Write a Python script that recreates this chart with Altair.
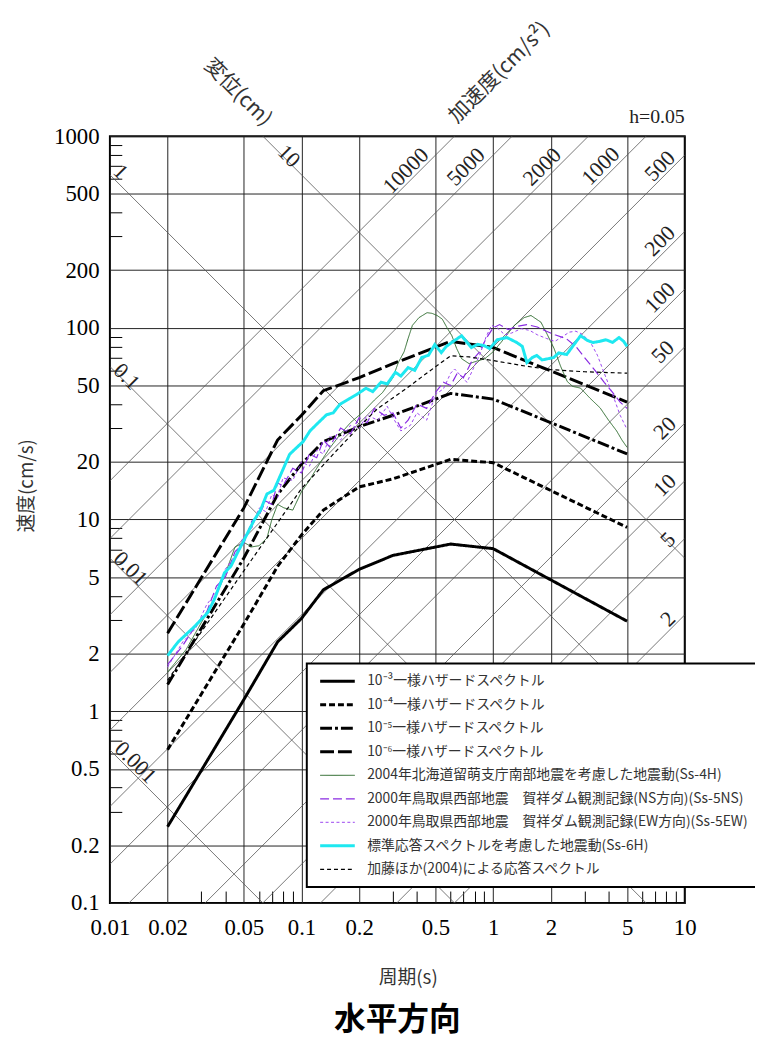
import altair as alt
import pandas as pd

JP = "Noto Sans CJK JP"
SERIF = "Liberation Serif"

# ---------------- axis values ----------------
X_TICKS = [0.01, 0.02, 0.05, 0.1, 0.2, 0.5, 1, 2, 5, 10]
Y_TICKS = [0.1, 0.2, 0.5, 1, 2, 5, 10, 20, 50, 100, 200, 500, 1000]
X_MINOR = [0.03, 0.04, 0.06, 0.07, 0.08, 0.09, 0.3, 0.4, 0.6, 0.7, 0.8, 0.9, 3, 4, 6, 7, 8, 9]
Y_MINOR = [0.3, 0.4, 0.6, 0.7, 0.8, 0.9, 3, 4, 6, 7, 8, 9, 30, 40, 60, 70, 80, 90,
           300, 400, 600, 700, 800, 900]

# tripartite reference lines (acceleration cm/s^2, displacement cm)
ACC_LINES = [10000, 5000, 2000, 1000, 500, 200, 100, 50, 20, 10, 5, 2, 1]
DISP_LINES = [10, 1, 0.1, 0.01, 0.001]

# labels of the reference lines (anchor in period / velocity)
ACC_LABELS = ["10000", "5000", "2000", "1000", "500", "200", "100", "50", "20", "10", "5", "2"]
ACC_LABEL_T = [0.350, 0.722, 1.80, 3.64, 7.42, 7.42, 7.42, 7.69, 7.87, 7.87, 8.16, 8.16]
ACC_LABEL_V = [660, 692, 692, 699, 699, 284, 144, 75, 30.0, 15.1, 7.84, 3.03]
DISP_LABELS = ["10", "1", "0.1", "0.01", "0.001"]
DISP_LABEL_T = [0.0860, 0.0114, 0.01224, 0.01283, 0.01362]
DISP_LABEL_V = [788, 652, 55.7, 5.55, 0.541]

TOP_TEXT = ["変位(cm)", "加速度(cm/s²)"]
TOP_T = [0.0464, 1.082]
TOP_V = [1687, 2139]
TOP_ANGLE = [45, 315]
H_TEXT = ["h=0.05"]
H_T = [10]
H_V = [1254]

# ---------------- spectra ----------------
T_UHS = [0.02, 0.05, 0.075, 0.1, 0.13, 0.2, 0.3, 0.6, 1.0, 5.0]
V_UHS_E3 = [0.25, 1.15, 2.3, 3.05, 4.3, 5.5, 6.5, 7.45, 7.05, 2.95]
V_UHS_E4 = [0.63, 2.85, 5.7, 8.3, 11.2, 14.8, 16.3, 20.6, 19.8, 9.1]
V_UHS_E5 = [1.38, 6.3, 13.5, 19.5, 25.5, 30.5, 35.0, 45.5, 42.5, 22.0]
V_UHS_E6 = [2.55, 11.5, 26.0, 35.0, 47.0, 55.0, 65.0, 85.0, 79.0, 41.0]

T_4H = [0.02, 0.025, 0.03, 0.035, 0.04, 0.045, 0.05, 0.055, 0.06, 0.066, 0.07, 0.075,
        0.081, 0.09, 0.1, 0.11, 0.12, 0.13, 0.14, 0.16, 0.18, 0.21, 0.24, 0.265, 0.3,
        0.32, 0.343, 0.36, 0.379, 0.41, 0.452, 0.48, 0.51, 0.543, 0.575, 0.609, 0.645,
        0.685, 0.75, 0.804, 0.905, 1.0, 1.104, 1.2, 1.29, 1.45, 1.576, 1.776, 1.92, 2.08,
        2.25, 2.436, 2.6, 2.856, 3.2, 3.62, 4.0, 4.41, 4.7, 5.0]
V_4H = [1.6, 2.1, 2.9, 3.8, 5.2, 7.2, 7.6, 7.2, 7.3, 8.0, 10.0, 12.0,
        11.5, 11.2, 14.0, 16.0, 18.5, 21.0, 23.5, 28.0, 32.0, 36.5, 42.0, 46.0, 55.0,
        66.0, 75.0, 88.0, 103.0, 113.0, 120.0, 119.0, 116.0, 111.0, 100.0, 91.0, 78.0,
        69.0, 65.0, 66.6, 69.0, 75.0, 84.4, 94.0, 103.0, 113.0, 116.0, 107.0, 92.0, 78.0,
        63.0, 52.5, 49.5, 48.5, 43.0, 38.2, 33.0, 29.0, 26.0, 23.8]

T_5NS = [0.02, 0.024, 0.028, 0.032, 0.036, 0.04, 0.045, 0.05, 0.055, 0.06, 0.065, 0.07,
         0.075, 0.08, 0.09, 0.1, 0.11, 0.12, 0.13, 0.14, 0.16, 0.18, 0.2, 0.22, 0.24,
         0.27, 0.3, 0.33, 0.36, 0.4, 0.45, 0.5, 0.55, 0.6, 0.65, 0.7, 0.78, 0.85, 0.92,
         1.0, 1.08, 1.2, 1.35, 1.5, 1.7, 1.9, 2.1, 2.4, 2.7, 3.0, 3.4, 3.8, 4.2, 4.6, 5.0]
V_5NS = [1.75, 2.2, 2.8, 3.3, 4.5, 5.0, 6.8, 7.5, 9.8, 10.5, 12.5, 12.0,
         15.5, 15.0, 18.5, 17.5, 22.0, 21.0, 26.0, 24.0, 30.0, 28.0, 34.0, 32.0, 38.0,
         35.0, 36.0, 30.0, 33.0, 40.0, 38.0, 46.0, 52.0, 50.0, 58.0, 55.0, 68.0, 75.0, 88.0,
         100.0, 104.0, 98.0, 102.0, 104.0, 101.0, 96.0, 92.0, 88.0, 80.0, 70.0, 60.0, 52.0,
         46.0, 41.0, 38.0]

T_5EW = [0.02, 0.024, 0.028, 0.032, 0.036, 0.04, 0.045, 0.05, 0.055, 0.06, 0.065, 0.07,
         0.075, 0.08, 0.09, 0.1, 0.11, 0.12, 0.13, 0.14, 0.16, 0.18, 0.2, 0.22, 0.25,
         0.28, 0.3, 0.33, 0.37, 0.4, 0.45, 0.5, 0.55, 0.6, 0.63, 0.68, 0.73, 0.78, 0.85,
         0.92, 0.98, 1.05, 1.15, 1.25, 1.4, 1.55, 1.7, 1.9, 2.1, 2.3, 2.5, 2.7, 2.9, 3.2,
         3.5, 3.8, 4.2, 4.6, 5.0]
V_5EW = [1.7, 2.3, 2.7, 3.6, 4.2, 5.5, 6.5, 8.2, 9.0, 11.5, 11.0, 13.5,
         13.0, 16.5, 16.0, 20.0, 19.0, 23.0, 22.0, 27.0, 26.0, 31.0, 30.0, 35.0, 33.0,
         39.0, 34.0, 29.0, 31.0, 36.0, 33.0, 45.0, 48.0, 58.0, 61.0, 56.0, 52.0, 60.0, 72.0,
         90.0, 103.0, 100.0, 92.0, 94.0, 99.0, 97.0, 92.0, 88.0, 85.0, 90.0, 95.0, 96.0, 93.0,
         85.0, 72.0, 58.0, 45.0, 35.0, 29.5]

T_6H = [0.02, 0.0227, 0.0277, 0.0324, 0.0351, 0.0396, 0.0428, 0.0463, 0.0502, 0.0565,
        0.0611, 0.066, 0.0717, 0.0805, 0.0867, 0.0946, 0.102, 0.1107, 0.12, 0.135, 0.1463,
        0.1582, 0.177, 0.193, 0.217, 0.2353, 0.26, 0.28, 0.309, 0.33, 0.36, 0.39, 0.424,
        0.46, 0.496, 0.536, 0.57, 0.607, 0.684, 0.73, 0.77, 0.83, 0.898, 0.96, 1.05, 1.18,
        1.33, 1.42, 1.5, 1.6, 1.69, 1.8, 2.07, 2.2, 2.42, 2.6, 2.86, 3.1, 3.32, 3.6, 3.87,
        4.2, 4.54, 4.8, 5.0]
V_6H = [1.95, 2.3, 2.77, 3.27, 3.84, 5.27, 5.71, 6.7, 7.84, 9.9,
        11.2, 13.6, 14.2, 18.5, 21.9, 23.8, 25.5, 29.0, 31.4, 35.2, 36.0,
        39.8, 42.6, 44.8, 48.4, 46.5, 52.0, 51.0, 58.6, 56.0, 62.0, 60.0, 70.0,
        72.0, 81.7, 74.3, 80.0, 83.8, 91.0, 84.0, 78.9, 82.0, 80.7, 78.0, 86.7, 89.0,
        83.8, 80.0, 66.0, 70.0, 71.8, 68.0, 70.0, 74.0, 72.6, 80.0, 91.0, 86.0, 83.8, 85.0, 86.7,
        84.0, 89.0, 85.0, 80.0]

T_KATO = [0.02, 0.05, 0.1, 0.15, 0.2, 0.25, 0.35, 0.45, 0.6, 0.75, 1.0, 1.5, 2.0, 3.0, 5.0]
V_KATO = [1.45, 5.4, 14.5, 22.5, 30.5, 38.0, 48.0, 58.0, 71.5, 70.5, 67.5, 63.0, 60.5, 59.0, 58.0]

SERIES = [
    "10⁻³一様ハザードスペクトル",
    "10⁻⁴一様ハザードスペクトル",
    "10⁻⁵一様ハザードスペクトル",
    "10⁻⁶一様ハザードスペクトル",
    "2004年北海道留萌支庁南部地震を考慮した地震動(Ss-4H)",
    "2000年鳥取県西部地震　賀祥ダム観測記録(NS方向)(Ss-5NS)",
    "2000年鳥取県西部地震　賀祥ダム観測記録(EW方向)(Ss-5EW)",
    "標準応答スペクトルを考慮した地震動(Ss-6H)",
    "加藤ほか(2004)による応答スペクトル",
]
COLORS = ["#000000", "#000000", "#000000", "#000000", "#2F6B2F",
          "#8A2BE2", "#9B45F0", "#1EE8F0", "#000000"]
DASHES = [[1, 0], [6, 3], [12, 3, 3, 3], [14, 4], [1, 0], [9, 4], [3, 2.5], [1, 0], [4, 3]]
WIDTHS = [3, 3, 3, 3, 1, 1.2, 1, 3, 1.2]

CURVE_T = [T_UHS, T_UHS, T_UHS, T_UHS, T_4H, T_5NS, T_5EW, T_6H, T_KATO]
CURVE_V = [V_UHS_E3, V_UHS_E4, V_UHS_E5, V_UHS_E6, V_4H, V_5NS, V_5EW, V_6H, V_KATO]

# ---------------- tables ----------------
curve_rows = []
for k, name in enumerate(SERIES):
    for t, v in zip(CURVE_T[k], CURVE_V[k]):
        curve_rows.append({"series": name, "T": t, "V": v})
curves_df = pd.DataFrame(curve_rows)

T_ENDS = [X_TICKS[0], X_TICKS[-1]]
diag_rows = []
for a in ACC_LINES:
    for t in T_ENDS:
        diag_rows.append({"key": f"A{a}", "kind": "A", "val": a, "T": t})
for d in DISP_LINES:
    for t in T_ENDS:
        diag_rows.append({"key": f"D{d}", "kind": "D", "val": d, "T": t})
diag_df = pd.DataFrame(diag_rows)

num_df = pd.DataFrame(
    [{"txt": s, "T": t, "V": v, "ang": 315} for s, t, v in zip(ACC_LABELS, ACC_LABEL_T, ACC_LABEL_V)]
    + [{"txt": s, "T": t, "V": v, "ang": 45} for s, t, v in zip(DISP_LABELS, DISP_LABEL_T, DISP_LABEL_V)]
)
top_df = pd.DataFrame([{"txt": s, "T": t, "V": v, "ang": a}
                       for s, t, v, a in zip(TOP_TEXT, TOP_T, TOP_V, TOP_ANGLE)])
h_df = pd.DataFrame([{"txt": s, "T": t, "V": v} for s, t, v in zip(H_TEXT, H_T, H_V)])

# ---------------- scales / axes ----------------
xs = alt.Scale(type="log", domain=[0.01, 10], nice=False)
ys = alt.Scale(type="log", domain=[0.1, 1000], nice=False)

x_main = alt.Axis(values=X_TICKS, format="~g", grid=True, gridColor="#222", gridWidth=1,
                  ticks=False, domain=False, labelFont=SERIF, labelFontSize=23, labelColor="black",
                  labelPadding=14, labelFlush=False, labelOverlap=False,
                  title="周期(s)", titleFont=JP, titleFontSize=19, titleFontWeight="normal",
                  titleColor="#333", titleX=301, titleY=75, titleBaseline="middle", titleAlign="center")
y_main = alt.Axis(values=Y_TICKS, format="~g", grid=True, gridColor="#222", gridWidth=1,
                  ticks=False, domain=False, labelFont=SERIF, labelFontSize=23, labelColor="black",
                  labelPadding=11, labelFlush=False, labelOverlap=False,
                  title="速度(cm/s)", titleFont=JP, titleFontSize=19, titleFontWeight="normal",
                  titleColor="#333", titleX=-84, titleY=353, titleAngle=270,
                  titleBaseline="middle", titleAlign="center")
x_minor = alt.Axis(orient="top", offset=-775, values=X_MINOR, labels=False, domain=False,
                   grid=False, ticks=True, tickSize=12, tickColor="black", tickWidth=1, title=None)
y_minor = alt.Axis(orient="right", offset=-581, values=Y_MINOR, labels=False, domain=False,
                   grid=False, ticks=True, tickSize=12, tickColor="black", tickWidth=1, title=None)

V_EXPR = "datum.kind == 'A' ? datum.val * datum.T / (2 * PI) : 2 * PI * datum.val / datum.T"

diag = alt.Chart(diag_df).transform_calculate(V=V_EXPR).mark_line(
    clip=True, color="#555", strokeWidth=0.8
).encode(
    x=alt.X("T:Q", scale=xs, axis=x_main),
    y=alt.Y("V:Q", scale=ys, axis=y_main),
    detail="key:N",
)

minor = alt.Chart(diag_df).transform_calculate(V=V_EXPR).mark_line(
    clip=True, opacity=0
).encode(
    x=alt.X("T:Q", scale=xs, axis=x_minor),
    y=alt.Y("V:Q", scale=ys, axis=y_minor),
    detail="key:N",
)

leg = dict(title=None, orient="none", legendX=199, legendY=533, direction="vertical",
           fillColor="white", strokeColor="black", padding=10, rowPadding=7.75,
           clipHeight=16, symbolType="stroke", symbolSize=1225, symbolOffset=2,
           labelFont=JP, labelFontSize=14, labelColor="#333", labelLimit=600, labelOffset=11)

curves = alt.Chart(curves_df).mark_line(clip=True).encode(
    x=alt.X("T:Q", scale=xs, axis=None),
    y=alt.Y("V:Q", scale=ys, axis=None),
    color=alt.Color("series:N", scale=alt.Scale(domain=SERIES, range=COLORS),
                    legend=alt.Legend(**leg)),
    strokeDash=alt.StrokeDash("series:N", scale=alt.Scale(domain=SERIES, range=DASHES),
                              legend=alt.Legend(**leg)),
    strokeWidth=alt.StrokeWidth("series:N",
                                scale=alt.Scale(type="ordinal", domain=SERIES, range=WIDTHS),
                                legend=alt.Legend(**leg)),
)

nums = alt.Chart(num_df).mark_text(font=SERIF, fontSize=22, color="#222",
                                   align="center", baseline="middle").encode(
    x=alt.X("T:Q", scale=xs, axis=None),
    y=alt.Y("V:Q", scale=ys, axis=None),
    text="txt:N",
    angle=alt.Angle("ang:Q", scale=None),
)

tops = alt.Chart(top_df).mark_text(font=JP, fontSize=21, color="#333",
                                   align="center", baseline="middle").encode(
    x=alt.X("T:Q", scale=xs, axis=None),
    y=alt.Y("V:Q", scale=ys, axis=None),
    text="txt:N",
    angle=alt.Angle("ang:Q", scale=None),
)

htxt = alt.Chart(h_df).mark_text(font=SERIF, fontSize=20, color="#222",
                                 align="right", baseline="middle").encode(
    x=alt.X("T:Q", scale=xs, axis=None),
    y=alt.Y("V:Q", scale=ys, axis=None),
    text="txt:N",
)

chart = alt.layer(diag, minor, curves, nums, tops, htxt).resolve_axis(
    x="independent", y="independent"
).properties(
    width=581,
    height=775,
    autosize=alt.AutoSizeParams(type="none"),
    padding={"left": 103, "top": 124, "right": 71, "bottom": 132},
    background="white",
    title=alt.TitleParams(text="水平方向", orient="bottom", anchor="middle", frame="group",
                          font=JP, fontSize=32, fontWeight="bold", color="black", offset=18),
).configure_view(stroke="black", strokeWidth=2).configure_legend(strokeWidth=2)

chart.save("out.html", embed_options={"renderer": "svg", "actions": False})
